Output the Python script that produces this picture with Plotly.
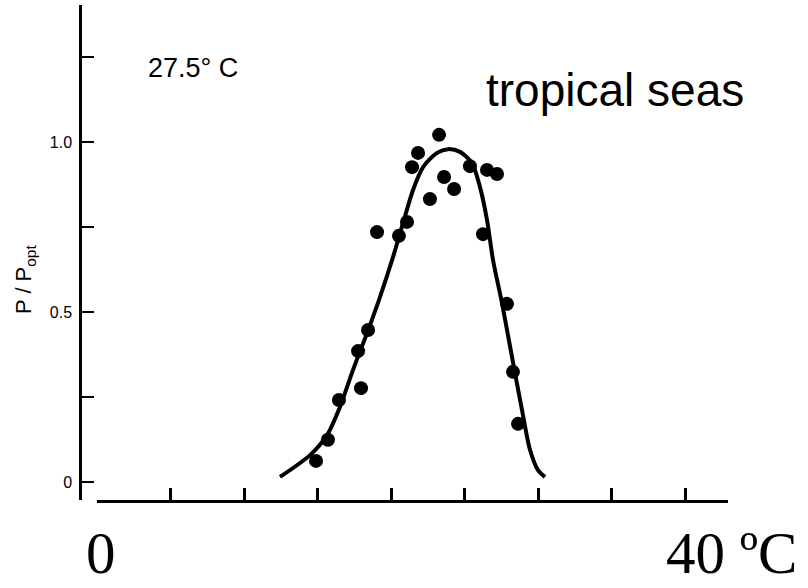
import plotly.graph_objects as go

# Observed points (temperature in degC, relative photosynthesis P/Popt)
obs_temp = [14.90, 15.71, 16.46, 17.76, 17.96, 18.44, 19.05, 20.54, 21.09, 21.43, 21.84,
            22.65, 23.27, 23.61, 24.29, 25.37, 26.26, 26.53, 27.21, 27.89, 28.30, 28.64]
obs_rel = [0.062, 0.124, 0.241, 0.385, 0.276, 0.447, 0.735, 0.724, 0.765, 0.926, 0.968,
           0.832, 1.021, 0.897, 0.862, 0.929, 0.729, 0.918, 0.906, 0.524, 0.324, 0.171]

# Fitted curve
fit_temp = [12.45, 14.49, 15.65, 16.53, 17.41, 18.37, 19.25, 20.14, 20.82, 21.50, 22.18,
            23.13, 23.88, 24.69, 25.51, 26.05, 26.53, 26.94, 27.55, 28.23, 28.91, 29.46,
            30.00, 30.48]
fit_rel = [0.015, 0.079, 0.138, 0.221, 0.329, 0.438, 0.544, 0.662, 0.762, 0.859, 0.926,
           0.968, 0.979, 0.971, 0.938, 0.868, 0.771, 0.653, 0.526, 0.368, 0.212, 0.094,
           0.035, 0.015]

y_tickvals = [0, 0.5, 1.0]
y_ticktext = ["0", "0.5", "1.0"]
y_minor_step = 0.25
x_tickvals = [0, 5, 10, 15, 20, 25, 30, 35, 40]

fig = go.Figure()
fig.add_trace(go.Scatter(x=fit_temp, y=fit_rel, mode="lines",
                         line=dict(color="black", width=4, shape="spline", smoothing=0.8),
                         hoverinfo="skip", showlegend=False))
fig.add_trace(go.Scatter(x=obs_temp, y=obs_rel, mode="markers",
                         marker=dict(color="black", size=14),
                         showlegend=False))

W, H = 808, 588
L, R, T, B = 80, 0, 5, 88
pw = W - L - R
ph = H - T - B


def px(xp):
    return (xp - L) / pw


def py(yp):
    return (H - B - yp) / ph


serif = "Liberation Serif, Times New Roman, serif"

fig.update_layout(
    width=W, height=H,
    margin=dict(l=L, r=R, t=T, b=B),
    paper_bgcolor="white", plot_bgcolor="white",
    font=dict(family="Liberation Sans, Arial, sans-serif", color="black"),
    xaxis=dict(domain=[px(97), px(728)], range=[0, 42.925],
               showline=True, linecolor="black", linewidth=2.5,
               ticks="inside", ticklen=12, tickwidth=2.5, tickcolor="black",
               tickvals=x_tickvals, showticklabels=False,
               showgrid=False, zeroline=False, anchor="y"),
    yaxis=dict(range=[-0.053, 1.403], anchor="free", position=0,
               showline=True, linecolor="black", linewidth=2.5,
               ticks="inside", ticklen=12, tickwidth=2, tickcolor="black",
               tickvals=y_tickvals, ticktext=y_ticktext,
               minor=dict(tick0=0, dtick=y_minor_step, ticks="inside", ticklen=12,
                          tickwidth=2, tickcolor="black", showgrid=False),
               tickfont=dict(size=16, color="black"), ticklabelstandoff=4,
               showgrid=False, zeroline=False),
    annotations=[
        dict(text="27.5° C", x=px(193), y=py(68), xref="paper", yref="paper",
             xanchor="center", yanchor="middle", showarrow=False,
             font=dict(size=27, color="black")),
        dict(text="tropical seas", x=px(615), y=py(90), xref="paper", yref="paper",
             xanchor="center", yanchor="middle", showarrow=False,
             font=dict(size=46, color="black")),
        dict(text="P / P<sub>opt</sub>", x=px(25), y=py(280), xref="paper", yref="paper",
             xanchor="center", yanchor="middle",
             textangle=-90, showarrow=False, font=dict(size=22, color="black")),
        dict(text="0", x=px(101), y=py(587), xref="paper", yref="paper",
             xanchor="center", yanchor="bottom", showarrow=False, borderpad=0,
             font=dict(size=59, color="black", family=serif)),
        dict(text="40 ºC", x=px(731), y=py(587), xref="paper", yref="paper",
             xanchor="center", yanchor="bottom", showarrow=False, borderpad=0,
             font=dict(size=59, color="black", family=serif)),
    ],
)

fig.write_html("out.html")
